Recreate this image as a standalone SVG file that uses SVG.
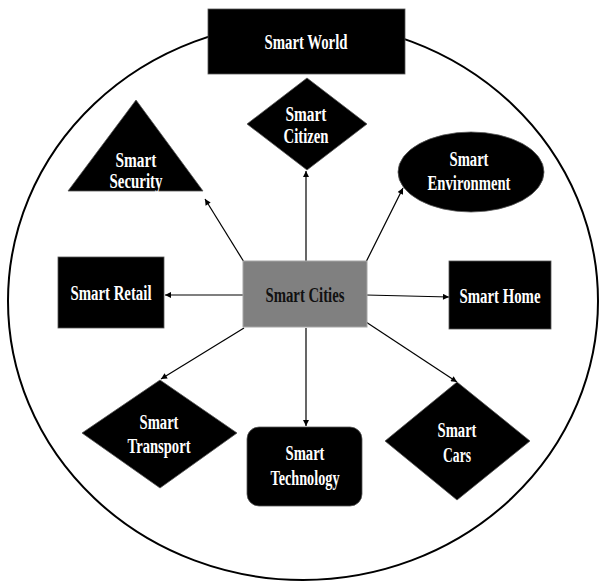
<svg xmlns="http://www.w3.org/2000/svg" width="600" height="585" viewBox="0 0 600 585">
<style>
.bg{fill:#ffffff}
.ring{fill:none;stroke:#000;stroke-width:2}
.shape{fill:#000;stroke:#555;stroke-width:0.8}
.hub{fill:#808080;stroke:#a6a6a6;stroke-width:1}
.lbl{font-family:"Liberation Serif","Times New Roman",serif;font-weight:bold;font-size:20px;fill:#fff;text-anchor:middle}
.dark{fill:#111}
.conn{stroke:#000;stroke-width:1.2;fill:none;marker-end:url(#ah)}
</style>
<defs>
<marker id="ah" viewBox="0 0 10 10" refX="10" refY="5" markerWidth="7" markerHeight="6" markerUnits="userSpaceOnUse" orient="auto">
<path d="M0,0 L10,5 L0,10 z" fill="#000"/>
</marker>
</defs>
<rect class="bg" x="0" y="0" width="600" height="585"/>
<ellipse class="ring" cx="303" cy="301" rx="295" ry="279"/>
<g id="connectors">
<line class="conn" x1="244" y1="262" x2="205" y2="199"/>
<line class="conn" x1="306" y1="261" x2="306" y2="171"/>
<line class="conn" x1="366" y1="262" x2="403" y2="188"/>
<line class="conn" x1="366" y1="295" x2="449" y2="297"/>
<line class="conn" x1="244" y1="295" x2="165" y2="295"/>
<line class="conn" x1="244" y1="328" x2="161" y2="379"/>
<line class="conn" x1="306" y1="328" x2="306" y2="426"/>
<line class="conn" x1="366" y1="322" x2="457" y2="382"/>
</g>
<g id="smart-world">
<rect class="shape" x="208" y="9" width="197" height="65"/>
<text class="lbl" x="306" y="49" textLength="83" lengthAdjust="spacingAndGlyphs">Smart World</text>
</g>
<g id="smart-citizen">
<polygon class="shape" points="307,78 367,124 307,170 247,124"/>
<text class="lbl" x="306" y="121" textLength="41" lengthAdjust="spacingAndGlyphs">Smart</text>
<text class="lbl" x="306" y="143" textLength="45" lengthAdjust="spacingAndGlyphs">Citizen</text>
</g>
<g id="smart-security">
<polygon class="shape" points="136,100 203,191 68,191"/>
<text class="lbl" x="136" y="167" textLength="41" lengthAdjust="spacingAndGlyphs">Smart</text>
<text class="lbl" x="136" y="188" textLength="53" lengthAdjust="spacingAndGlyphs">Security</text>
</g>
<g id="smart-environment">
<ellipse class="shape" cx="471" cy="172" rx="73" ry="40"/>
<text class="lbl" x="469" y="166" textLength="39" lengthAdjust="spacingAndGlyphs">Smart</text>
<text class="lbl" x="469" y="190" textLength="83" lengthAdjust="spacingAndGlyphs">Environment</text>
</g>
<g id="smart-retail">
<rect class="shape" x="58" y="257" width="106" height="71"/>
<text class="lbl" x="111" y="300" textLength="81" lengthAdjust="spacingAndGlyphs">Smart Retail</text>
</g>
<g id="smart-cities">
<rect class="hub" x="243" y="261" width="124" height="66"/>
<text class="lbl dark" x="305" y="302" textLength="79" lengthAdjust="spacingAndGlyphs">Smart Cities</text>
</g>
<g id="smart-home">
<rect class="shape" x="449" y="261" width="102" height="68"/>
<text class="lbl" x="500" y="303" textLength="81" lengthAdjust="spacingAndGlyphs">Smart Home</text>
</g>
<g id="smart-transport">
<polygon class="shape" points="160,380 237,433 160,488 82,433"/>
<text class="lbl" x="159" y="429" textLength="39" lengthAdjust="spacingAndGlyphs">Smart</text>
<text class="lbl" x="159" y="453" textLength="63" lengthAdjust="spacingAndGlyphs">Transport</text>
</g>
<g id="smart-technology">
<rect class="shape" x="247" y="427" width="115" height="79" rx="12" ry="12"/>
<text class="lbl" x="305" y="460" textLength="39" lengthAdjust="spacingAndGlyphs">Smart</text>
<text class="lbl" x="305" y="485" textLength="69" lengthAdjust="spacingAndGlyphs">Technology</text>
</g>
<g id="smart-cars">
<polygon class="shape" points="457,382 530,441 457,500 385,441"/>
<text class="lbl" x="457" y="437" textLength="39" lengthAdjust="spacingAndGlyphs">Smart</text>
<text class="lbl" x="457" y="462" textLength="28" lengthAdjust="spacingAndGlyphs">Cars</text>
</g>
</svg>
